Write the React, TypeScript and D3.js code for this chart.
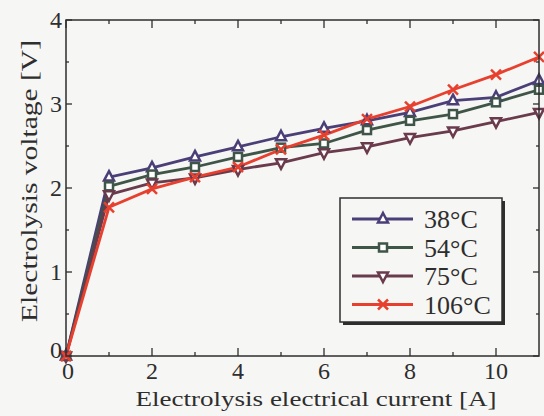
import React from 'react'
import * as d3 from 'd3'

// electrical current [A]
const currents = [0, 1, 2, 3, 4, 5, 6, 7, 8, 9, 10, 11]

// electrolysis voltage [V] for each temperature
const v38 = [0, 2.13, 2.24, 2.37, 2.49, 2.61, 2.71, 2.8, 2.9, 3.04, 3.08, 3.28]
const v54 = [0, 2.02, 2.16, 2.25, 2.37, 2.48, 2.53, 2.69, 2.8, 2.88, 3.02, 3.17]
const v75 = [0, 1.92, 2.06, 2.12, 2.22, 2.3, 2.42, 2.49, 2.6, 2.68, 2.79, 2.9]
const v106 = [0, 1.77, 1.99, 2.13, 2.25, 2.46, 2.63, 2.82, 2.97, 3.17, 3.35, 3.56]

const seriesNames = ['38°C', '54°C', '75°C', '106°C']
const seriesColors = ['#4b3f78', '#3f5548', '#6a3b4c', '#e8402e']
const seriesMarkers = ['triangle', 'square', 'down', 'cross']

const xTicks = [0, 2, 4, 6, 8, 10]
const yTicks = [0, 1, 2, 3, 4]

const W = 544
const H = 416
const m = {left: 66, right: 539, top: 20, bottom: 356}
const font = 'Liberation Serif, Times New Roman, serif'
const ink = '#2e2e2e'

const Marker = ({type, x, y, color}) => {
	if (type === 'triangle') {
		const p = d3.path()
		p.moveTo(x, y - 6); p.lineTo(x + 5, y + 3.5); p.lineTo(x - 5, y + 3.5); p.closePath()
		return <path d={p.toString()} fill="#fff" stroke={color} strokeWidth={2.5} />
	}
	if (type === 'down') {
		const p = d3.path()
		p.moveTo(x, y + 6); p.lineTo(x + 5, y - 3.5); p.lineTo(x - 5, y - 3.5); p.closePath()
		return <path d={p.toString()} fill="#fff" stroke={color} strokeWidth={2.5} />
	}
	if (type === 'square') {
		return <rect x={x - 4} y={y - 4} width={8} height={8} fill="#fff" stroke={color} strokeWidth={2.5} />
	}
	return (
		<g stroke={color} strokeWidth={2.5}>
			<line x1={x - 5} y1={y - 5} x2={x + 5} y2={y + 5} />
			<line x1={x - 5} y1={y + 5} x2={x + 5} y2={y - 5} />
		</g>
	)
}

export default function App() {
	const xScale = d3.scaleLinear().domain([0, 11]).range([m.left, m.right])
	const yScale = d3.scaleLinear().domain([0, 4]).range([m.bottom, m.top])

	const allSeries = [v38, v54, v75, v106]

	const line = d3.line<number>()
		.x((d, i) => xScale(currents[i]))
		.y(d => yScale(d))

	const xMinor = d3.range(1, 11, 2)
	const yMinor = [0.5, 1.5, 2.5, 3.5]

	const legendX = 340, legendY = 198, legendW = 162, legendH = 124

	return (
		<svg width={W} height={H} style={{position: 'absolute', left: 0, top: 0}}>
			<rect width={W} height={H} fill="#f6f6f4" />

			{/* ticks, pointing inward */}
			<g stroke={ink} strokeWidth={1.3}>
				{xTicks.map(t => (
					<g key={'xt' + t}>
						<line x1={xScale(t)} x2={xScale(t)} y1={m.bottom} y2={m.bottom - 8} />
						<line x1={xScale(t)} x2={xScale(t)} y1={m.top} y2={m.top + 8} />
					</g>
				))}
				{xMinor.map(t => (
					<g key={'xm' + t}>
						<line x1={xScale(t)} x2={xScale(t)} y1={m.bottom} y2={m.bottom - 4} />
						<line x1={xScale(t)} x2={xScale(t)} y1={m.top} y2={m.top + 4} />
					</g>
				))}
				{yTicks.map(t => (
					<g key={'yt' + t}>
						<line x1={m.left} x2={m.left + 6} y1={yScale(t)} y2={yScale(t)} />
						<line x1={m.right} x2={m.right - 6} y1={yScale(t)} y2={yScale(t)} />
					</g>
				))}
				{yMinor.map(t => (
					<g key={'ym' + t}>
						<line x1={m.left} x2={m.left + 3} y1={yScale(t)} y2={yScale(t)} />
						<line x1={m.right} x2={m.right - 3} y1={yScale(t)} y2={yScale(t)} />
					</g>
				))}
			</g>

			{/* series lines */}
			{allSeries.map((s, i) => (
				<path key={'l' + i} d={line(s)} fill="none" stroke={seriesColors[i]} strokeWidth={2.8} />
			))}
			{allSeries.map((s, i) => (
				<g key={'m' + i}>
					{s.map((v, j) => (
						<Marker key={j} type={seriesMarkers[i]} x={xScale(currents[j])} y={yScale(v)} color={seriesColors[i]} />
					))}
				</g>
			))}

			{/* frame */}
			<rect x={m.left} y={m.top} width={m.right - m.left} height={m.bottom - m.top} fill="none" stroke={ink} strokeWidth={1.5} />

			{/* tick labels */}
			<g fontFamily={font} fontSize={24} fill={ink}>
				{xTicks.map(t => (
					<text key={'xl' + t} x={xScale(t) + (t === 0 ? 2 : 0)} y={379} textAnchor="middle">{t}</text>
				))}
				{yTicks.map(t => (
					<text key={'yl' + t} x={m.left - 4} y={yScale(t) + (t === 0 ? 2 : 8)} textAnchor="end">{t}</text>
				))}
			</g>

			{/* axis titles */}
			<text x={316} y={406} textAnchor="middle" fontFamily={font} fontSize={22} fill={ink}
				textLength={361} lengthAdjust="spacingAndGlyphs">Electrolysis electrical current [A]</text>
			<text transform="translate(37, 181) rotate(-90)" textAnchor="middle" fontFamily={font} fontSize={24} fill={ink}
				textLength={282} lengthAdjust="spacingAndGlyphs">Electrolysis voltage [V]</text>

			{/* legend */}
			<rect x={legendX + 3} y={legendY + 3} width={legendW} height={legendH} fill={ink} />
			<rect x={legendX} y={legendY} width={legendW} height={legendH} fill="#f6f6f4" stroke={ink} strokeWidth={1.5} />
			{seriesNames.map((name, i) => {
				const ly = legendY + 21 + i * 28.5
				return (
					<g key={'lg' + i}>
						<line x1={legendX + 12} x2={legendX + 73} y1={ly} y2={ly} stroke={seriesColors[i]} strokeWidth={2.8} />
						<Marker type={seriesMarkers[i]} x={legendX + 43} y={ly} color={seriesColors[i]} />
						<text x={legendX + 84} y={ly + 9} fontFamily={font} fontSize={26} fill={ink}>{name}</text>
					</g>
				)
			})}
		</svg>
	)
}
